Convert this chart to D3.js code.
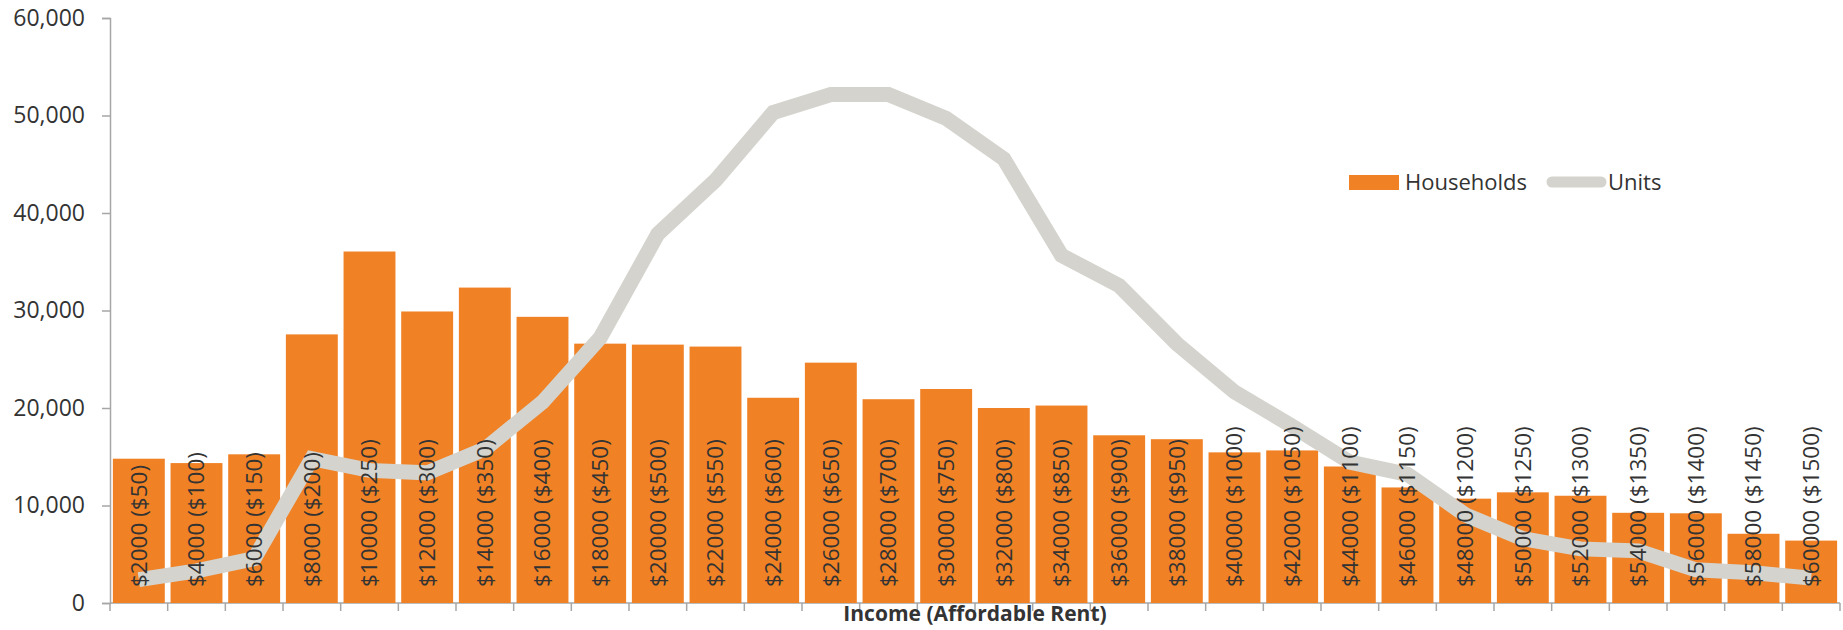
<!DOCTYPE html>
<html>
<head>
<meta charset="utf-8">
<script src="https://cdn.jsdelivr.net/npm/d3@7"></script>
<style>
  body { margin: 0; background: #fff; }
  text { font-family: "Open Sans", "Noto Sans", sans-serif; fill: #333; }
</style>
</head>
<body>
<svg id="chart" width="1843" height="630"></svg>
<script>
//data
const incomeLabels = [
  "$2000 ($50)", "$4000 ($100)", "$6000 ($150)", "$8000 ($200)", "$10000 ($250)",
  "$12000 ($300)", "$14000 ($350)", "$16000 ($400)", "$18000 ($450)", "$20000 ($500)",
  "$22000 ($550)", "$24000 ($600)", "$26000 ($650)", "$28000 ($700)", "$30000 ($750)",
  "$32000 ($800)", "$34000 ($850)", "$36000 ($900)", "$38000 ($950)", "$40000 ($1000)",
  "$42000 ($1050)", "$44000 ($1100)", "$46000 ($1150)", "$48000 ($1200)", "$50000 ($1250)",
  "$52000 ($1300)", "$54000 ($1350)", "$56000 ($1400)", "$58000 ($1450)", "$60000 ($1500)"
];
const households = [
  14800, 14350, 15250, 27550, 36050, 29900, 32350, 29350, 26600, 26500,
  26300, 21050, 24650, 20900, 21950, 20000, 20250, 17200, 16800, 15450,
  15650, 14000, 11850, 10700, 11350, 11000, 9250, 9200, 7100, 6400
];
const units = [
  2400, 3300, 4550, 14800, 13600, 13350, 15800, 20600, 27200, 37850,
  43350, 50300, 52150, 52150, 49700, 45550, 35650, 32550, 26600, 21650,
  18150, 14450, 13200, 9050, 6600, 5550, 5350, 3400, 3100, 2550
];
const yTicks = [0, 10000, 20000, 30000, 40000, 50000, 60000];
const seriesNames = ["Households", "Units"];

const barColor = "#F08124";
const lineColor = "#D4D3CD";
const axisColor = "#A6A6A6";

const svg = d3.select("svg#chart");
const margin = { top: 18, right: 3, bottom: 27, left: 110 };
const width = +svg.attr("width");
const height = +svg.attr("height");
const plotWidth = width - margin.left - margin.right;
const plotHeight = height - margin.top - margin.bottom;

const chartArea = svg
  .append("g")
  .attr("transform", `translate(${margin.left},${margin.top})`);

//scales
const xScale = d3
  .scaleBand()
  .domain(incomeLabels)
  .range([0, plotWidth])
  .paddingInner(0.1)
  .paddingOuter(0.05);

const yScale = d3.scaleLinear().domain([0, 60000]).range([plotHeight, 0]);

//y axis
const leftAxis = d3
  .axisLeft(yScale)
  .tickValues(yTicks)
  .tickSize(8)
  .tickPadding(17)
  .tickFormat(d3.format(","));

const yAxisG = chartArea.append("g").attr("class", "y axis").call(leftAxis);
yAxisG.select(".domain").attr("stroke", axisColor).attr("stroke-width", 1.5);
yAxisG.selectAll(".tick line").attr("stroke", axisColor).attr("stroke-width", 1.5);
yAxisG
  .selectAll(".tick text")
  .attr("font-family", "Open Sans")
  .attr("font-size", 23)
  .attr("fill", "#333");

//x axis - ticks sit on the category boundaries
const boundaries = d3.range(incomeLabels.length + 1).map((i) => (plotWidth / incomeLabels.length) * i);
const xAxisG = chartArea
  .append("g")
  .attr("class", "x axis")
  .attr("transform", `translate(0,${plotHeight})`);

xAxisG
  .append("line")
  .attr("x1", 0)
  .attr("x2", plotWidth)
  .attr("stroke", axisColor)
  .attr("stroke-width", 1.5);

xAxisG
  .selectAll(".xtick")
  .data(boundaries)
  .join("line")
  .attr("class", "xtick")
  .attr("x1", (d) => d)
  .attr("x2", (d) => d)
  .attr("y1", 0)
  .attr("y2", 8)
  .attr("stroke", axisColor)
  .attr("stroke-width", 1.5);

//bars
chartArea
  .append("g")
  .attr("class", "bars")
  .selectAll("rect")
  .data(households)
  .join("rect")
  .attr("x", (d, i) => xScale(incomeLabels[i]))
  .attr("y", (d) => yScale(d))
  .attr("width", xScale.bandwidth())
  .attr("height", (d) => plotHeight - yScale(d))
  .attr("fill", barColor);

//units line
const lineGen = d3
  .line()
  .x((d, i) => xScale(incomeLabels[i]) + xScale.bandwidth() / 2)
  .y((d) => yScale(d));

chartArea
  .append("path")
  .datum(units)
  .attr("fill", "none")
  .attr("stroke", lineColor)
  .attr("stroke-width", 15)
  .attr("stroke-linejoin", "miter")
  .attr("d", lineGen);

//category labels drawn inside the bars, rotated
chartArea
  .append("g")
  .attr("class", "bar-labels")
  .selectAll("text")
  .data(incomeLabels)
  .join("text")
  .attr(
    "transform",
    (d) => `translate(${xScale(d) + xScale.bandwidth() / 2},${plotHeight - 16}) rotate(-90)`
  )
  .attr("text-anchor", "start")
  .attr("dy", "0.35em")
  .attr("font-size", 22.5)
  .attr("fill", "#333")
  .text((d) => d);

//axis title
svg
  .append("text")
  .attr("x", margin.left + plotWidth / 2)
  .attr("y", margin.top + plotHeight + 18)
  .attr("text-anchor", "middle")
  .attr("font-size", 21)
  .attr("font-weight", "bold")
  .attr("fill", "#222")
  .text("Income (Affordable Rent)");

//legend
const legend = svg.append("g").attr("class", "legend");
legend
  .append("rect")
  .attr("x", 1349)
  .attr("y", 175)
  .attr("width", 50)
  .attr("height", 15)
  .attr("fill", barColor);
legend
  .append("text")
  .attr("x", 1405)
  .attr("y", 190)
  .attr("font-size", 22)
  .text(seriesNames[0]);
legend
  .append("line")
  .attr("x1", 1552)
  .attr("x2", 1601)
  .attr("y1", 182)
  .attr("y2", 182)
  .attr("stroke", lineColor)
  .attr("stroke-width", 11)
  .attr("stroke-linecap", "round");
legend
  .append("text")
  .attr("x", 1608)
  .attr("y", 190)
  .attr("font-size", 22)
  .text(seriesNames[1]);
</script>
</body>
</html>
